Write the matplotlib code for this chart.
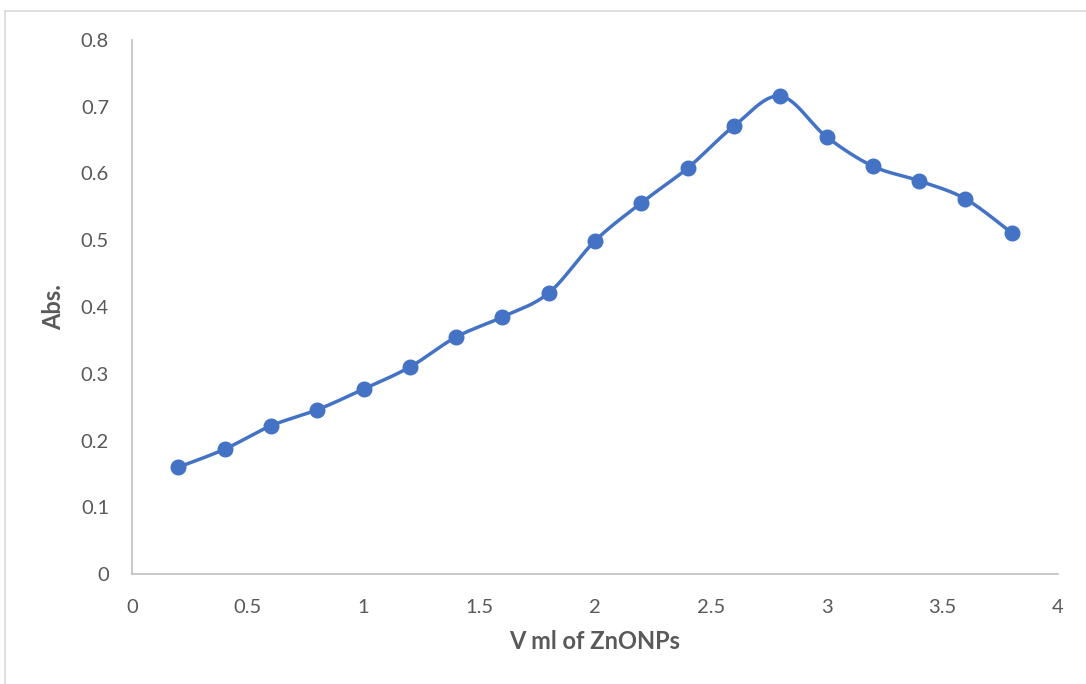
import numpy as np
import matplotlib
matplotlib.use("Agg")
import matplotlib.pyplot as plt
from matplotlib.lines import Line2D

volume_ml = [0.2, 0.4, 0.6, 0.8, 1.0, 1.2, 1.4, 1.6, 1.8, 2.0, 2.2, 2.4, 2.6, 2.8, 3.0, 3.2, 3.4, 3.6, 3.8]
absorbance = [0.160, 0.187, 0.222, 0.246, 0.277, 0.310, 0.355, 0.385, 0.421, 0.499,
              0.556, 0.608, 0.671, 0.716, 0.655, 0.611, 0.589, 0.562, 0.511]
x_ticks = [0, 0.5, 1, 1.5, 2, 2.5, 3, 3.5, 4]
x_tick_labels = ["0", "0.5", "1", "1.5", "2", "2.5", "3", "3.5", "4"]
y_ticks = [0, 0.1, 0.2, 0.3, 0.4, 0.5, 0.6, 0.7, 0.8]
y_tick_labels = ["0", "0.1", "0.2", "0.3", "0.4", "0.5", "0.6", "0.7", "0.8"]

plt.rcParams['font.family'] = ['Lato', 'DejaVu Sans']

BLUE = "#4472C4"
GRAY = "#595959"
AXIS = "#BFBFBF"

fig = plt.figure(figsize=(10.86, 6.84), dpi=100)
ax = fig.add_axes([132/1086, 1 - 574/684, (1058-132)/1086, (574-40)/684])


def smooth_curve(xs, ys, n=30):
    # Excel-like smoothed line: cubic Bezier segments with Catmull-Rom control points
    xs = np.asarray(xs, float)
    ys = np.asarray(ys, float)
    px, py = [], []
    m = len(xs)
    for i in range(m - 1):
        i0 = max(i - 1, 0)
        i3 = min(i + 2, m - 1)
        p0 = np.array([xs[i], ys[i]])
        p3 = np.array([xs[i + 1], ys[i + 1]])
        p1 = p0 + (np.array([xs[i + 1], ys[i + 1]]) - np.array([xs[i0], ys[i0]])) / 6
        p2 = p3 - (np.array([xs[i3], ys[i3]]) - np.array([xs[i], ys[i]])) / 6
        t = np.linspace(0, 1, n, endpoint=(i == m - 2))
        b = ((1 - t) ** 3)[:, None] * p0 + (3 * (1 - t) ** 2 * t)[:, None] * p1 \
            + (3 * (1 - t) * t ** 2)[:, None] * p2 + (t ** 3)[:, None] * p3
        px.extend(b[:, 0])
        py.extend(b[:, 1])
    return px, py


sx, sy = smooth_curve(volume_ml, absorbance)
ax.plot(sx, sy, color=BLUE, lw=2.5, solid_capstyle='round', zorder=3)
ax.plot(volume_ml, absorbance, 'o', color=BLUE, ms=10.5, zorder=4)

ax.set_xlim(0, 4)
ax.set_ylim(0, 0.8)
ax.set_xticks(x_ticks)
ax.set_xticklabels(x_tick_labels)
ax.set_yticks(y_ticks)
ax.set_yticklabels(y_tick_labels)
ax.tick_params(axis='both', length=0, labelsize=14.5, colors=GRAY)
ax.tick_params(axis='x', pad=18)
ax.tick_params(axis='y', pad=16.5)

for s in ['top', 'right']:
    ax.spines[s].set_visible(False)
for s in ['left', 'bottom']:
    ax.spines[s].set_color(AXIS)
    ax.spines[s].set_linewidth(1.2)

ax.set_xlabel("V ml of ZnONPs", fontsize=17, fontweight='bold', color=GRAY, labelpad=10)
ax.set_ylabel("Abs.", fontsize=17, fontweight='bold', color=GRAY, labelpad=11)

# chart area border (top and left edges visible)
fig.add_artist(Line2D([5/1086, 1], [1 - 10.5/684, 1 - 10.5/684], transform=fig.transFigure,
                      color="#D9D9D9", lw=1.2))
fig.add_artist(Line2D([5/1086, 5/1086], [0, 1 - 10.5/684], transform=fig.transFigure,
                      color="#D9D9D9", lw=1.2))

fig.savefig("out.png", dpi=100, facecolor="white")
